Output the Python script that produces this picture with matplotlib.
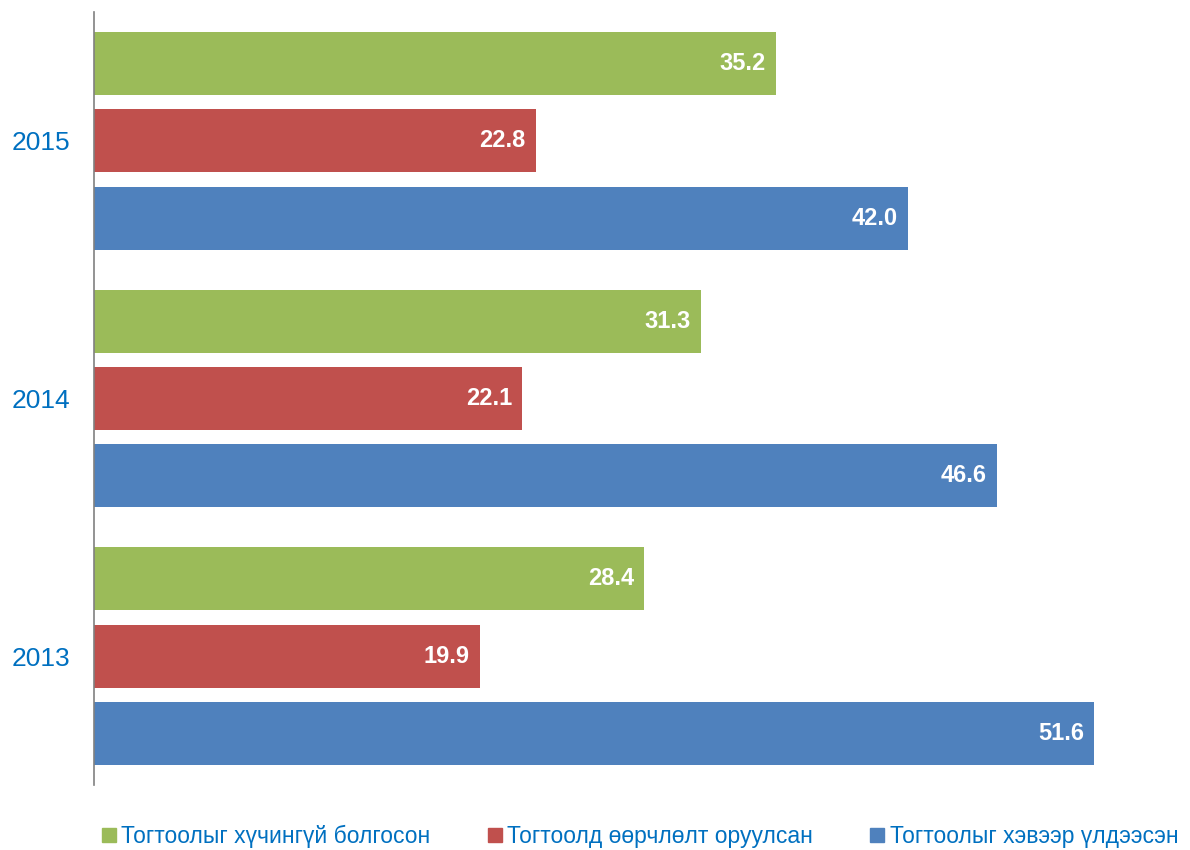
import matplotlib
matplotlib.use("Agg")
import matplotlib.pyplot as plt
from matplotlib.lines import Line2D
import numpy as np

years = ["2013", "2014", "2015"]
series_names = ["Тогтоолыг хүчингүй болгосон", "Тогтоолд өөрчлөлт оруулсан", "Тогтоолыг хэвээр үлдээсэн"]
green_vals = [28.4, 31.3, 35.2]
red_vals = [19.9, 22.1, 22.8]
blue_vals = [51.6, 46.6, 42.0]
colors = ["#9BBB59", "#C0504D", "#4F81BD"]

plt.rcParams['font.family'] = ['Liberation Sans', 'DejaVu Sans']

fig = plt.figure(figsize=(11.9, 8.5), dpi=100)
ax = fig.add_axes([94/1190, 1-785/850, (1180-94)/1190, 773/850])

y = np.arange(len(years))
h = 0.244
offsets = [0.3, 0.0, -0.3]
for vals, off, c in zip([green_vals, red_vals, blue_vals], offsets, colors):
    bars = ax.barh(y + off, vals, height=h, color=c)
    for b, v in zip(bars, vals):
        ax.annotate(f"{v:.1f}", xy=(v, b.get_y() + b.get_height()/2),
                    xytext=(-10, 0), textcoords="offset pixels",
                    ha="right", va="center", color="white", fontsize=17, fontweight="bold")

ax.set_xlim(0, (1180-94)/1000*51.6)
ax.set_ylim(-0.5, 2.5)
ax.set_yticks(y)
ax.set_yticklabels(years, fontsize=19, color="#0070C0")
ax.tick_params(axis='y', length=0, pad=17)
ax.set_xticks([])
for s in ["top", "right", "bottom"]:
    ax.spines[s].set_visible(False)
ax.spines["left"].set_color("#808080")
ax.spines["left"].set_linewidth(1.2)

handles = [Line2D([0], [0], marker='s', linestyle='none', markersize=10,
                  markerfacecolor=c, markeredgecolor=c) for c in colors]
fig.legend(handles, series_names, loc="center", bbox_to_anchor=(0.537, 1-836/850),
           ncol=3, frameon=False, fontsize=16.5, handletextpad=0.15, columnspacing=2.4,
           labelcolor="#0070C0", handlelength=0.8)

fig.savefig("out.png", dpi=100)
